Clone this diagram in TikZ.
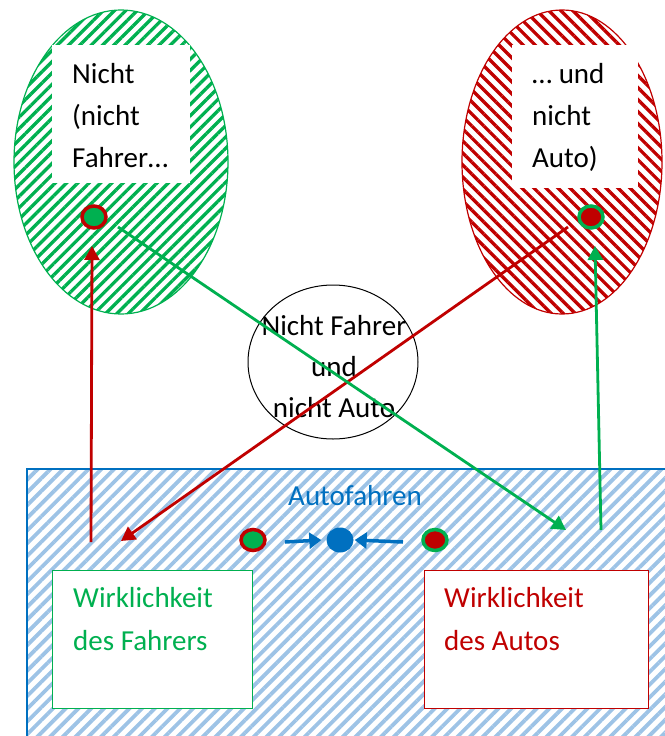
\documentclass[tikz,border=0pt]{standalone}
\usepackage{fontspec}
\setmainfont{Carlito}
\usetikzlibrary{shapes.geometric,patterns.meta,arrows.meta}
\definecolor{cgreen}{HTML}{00B050}
\definecolor{cred}{HTML}{C00000}
\definecolor{cblue}{HTML}{0070C0}
\definecolor{clblue}{HTML}{9DC3E6}
\begin{document}
\begin{tikzpicture}[x=1pt,y=-1pt,
  txt/.style={font=\fontsize{29}{42}\selectfont, align=left, inner sep=0pt, anchor=north west},
  whitebox/.style={fill=white, inner sep=0pt, anchor=north west},
  bigell/.style={ellipse, inner sep=0pt, line width=1.2pt},
  dotgr/.style={ellipse, inner sep=0pt, minimum width=24pt, minimum height=22pt, draw=cred, line width=3.5pt, fill=cgreen},
  dotrg/.style={ellipse, inner sep=0pt, minimum width=24pt, minimum height=22pt, draw=cgreen, line width=3.5pt, fill=cred},
  conn/.style={line width=2.8pt, -{Triangle[length=14pt,width=15pt]}},
  barrow/.style={cblue, line width=3.5pt, -{Triangle[length=12pt,width=16pt]}},
  realbox/.style={fill=white, inner sep=0pt, anchor=north west, line width=1.2pt}]
\useasboundingbox (0,0) rectangle (664,736);
% blue hatched area
\node[draw=cblue, line width=1.5pt, pattern={Lines[angle=45,distance=9pt,line width=3.8pt]}, pattern color=clblue, minimum width=680pt, minimum height=300pt, inner sep=0pt, anchor=north west] (area) at (25,467) {};
% green ellipse
\node[bigell, draw=cgreen, pattern={Lines[angle=45,distance=8pt,line width=3.3pt]}, pattern color=cgreen, minimum width=214pt, minimum height=304pt] (gell) at (121,162) {};
\node[whitebox, minimum width=138pt, minimum height=138pt] (gwhite) at (52,45) {};
\node[txt] (gtext) at (72,63) {Nicht\\(nicht\\Fahrer…};
\node[dotgr] (gdot) at (94,217) {};
% red ellipse
\node[bigell, draw=cred, pattern={Lines[angle=-45,distance=8.5pt,line width=3.3pt]}, pattern color=cred, minimum width=200pt, minimum height=304pt] (rell) at (562,162) {};
\node[whitebox, minimum width=126pt, minimum height=143pt] (rwhite) at (512,45) {};
\node[txt] (rtext) at (532,63) {… und\\nicht\\Auto)};
\node[dotrg] (rdot) at (591,217) {};
% middle ellipse
\node[ellipse, draw=black, line width=1pt, fill=white, minimum width=170pt, minimum height=154pt, inner sep=0pt] (mell) at (333,362) {};
\node[font=\fontsize{29}{41}\selectfont, align=center, inner sep=0pt, anchor=north] (mtext) at (334,315) {Nicht Fahrer\\und\\nicht Auto};
% Autofahren
\node[font=\fontsize{29}{42}\selectfont, text=cblue, inner sep=0pt, anchor=base] (auto) at (355,505) {Autofahren};
\node[dotgr, minimum width=24pt, minimum height=21pt] (adot1) at (253,540) {};
\node[ellipse, fill=cblue, inner sep=0pt, minimum width=27pt, minimum height=25pt] (bdot) at (340,540) {};
\node[dotrg, minimum width=24pt, minimum height=21pt] (adot2) at (435,540) {};
\coordinate (b1) at (285,542);
\coordinate (b2) at (403,542);
\draw[barrow] (b1) -- ([xshift=-5pt]bdot.west);
\draw[barrow] (b2) -- ([xshift=1pt]bdot.east);
% reality boxes
\node[realbox, draw=cgreen, minimum width=200pt, minimum height=138pt] (gbox) at (52,570) {};
\node[txt, text=cgreen, font=\fontsize{29}{43}\selectfont] (gboxt) at (73,587) {Wirklichkeit\\des Fahrers};
\node[realbox, draw=cred, minimum width=224pt, minimum height=138pt] (rbox) at (424,570) {};
\node[txt, text=cred, font=\fontsize{29}{43}\selectfont] (rboxt) at (444,587) {Wirklichkeit\\des Autos};
% connectors
\coordinate (rvb) at (91,542);
\coordinate (rvt) at (92,246);
\coordinate (rds) at (568,227);
\coordinate (rde) at (121,541);
\coordinate (gds) at (118,227);
\coordinate (gde) at (566,530);
\coordinate (gvb) at (601,530);
\coordinate (gvt) at (595,246);
\draw[conn, cred] (rvb) -- (rvt);
\draw[conn, cred] (rds) -- (rde);
\draw[conn, cgreen] (gds) -- (gde);
\draw[conn, cgreen] (gvb) -- (gvt);
\end{tikzpicture}
\end{document}
